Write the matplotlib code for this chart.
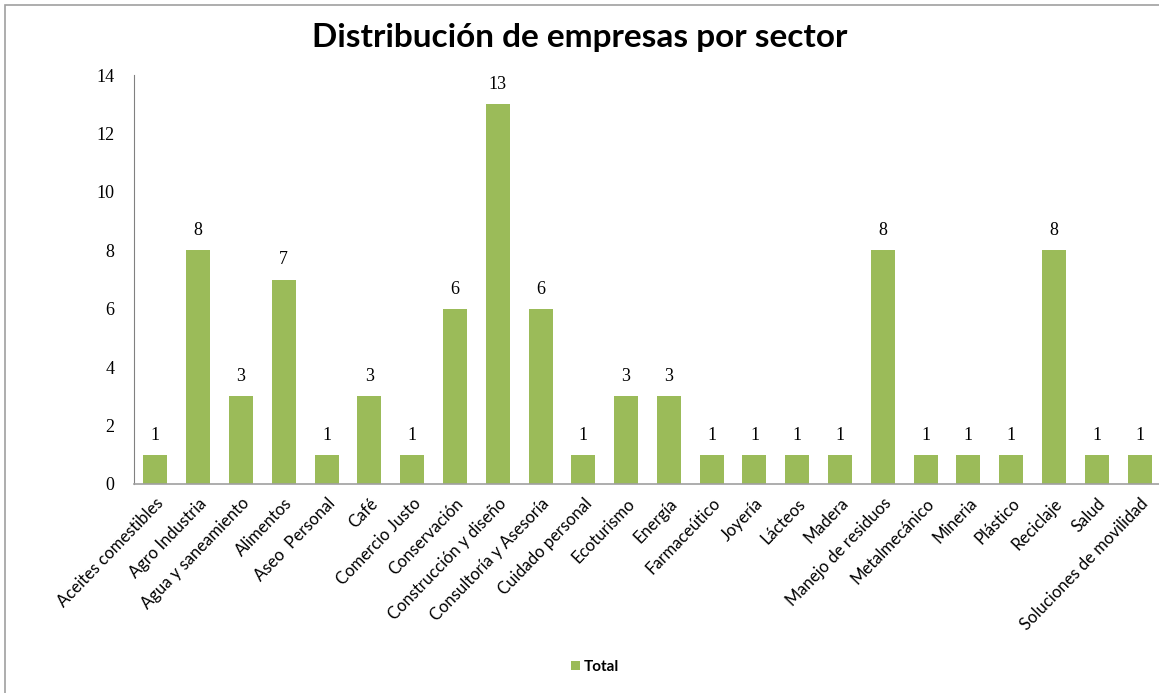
import matplotlib.pyplot as plt
from matplotlib.patches import Rectangle

sectores = [
    "Aceites comestibles", "Agro Industria", "Agua y saneamiento", "Alimentos",
    "Aseo  Personal", "Café", "Comercio Justo", "Conservación",
    "Construcción y diseño", "Consultoría y Asesoría", "Cuidado personal",
    "Ecoturismo", "Energía", "Farmaceútico", "Joyería", "Lácteos", "Madera",
    "Manejo de residuos", "Metalmecánico", "Mineria", "Plástico", "Reciclaje",
    "Salud", "Soluciones de movilidad",
]
total = [1, 8, 3, 7, 1, 3, 1, 6, 13, 6, 1, 3, 3, 1, 1, 1, 1, 8, 1, 1, 1, 8, 1, 1]
y_ticks = [0, 2, 4, 6, 8, 10, 12, 14]

verde = "#9BBB59"
sans = ["Lato", "DejaVu Sans"]
serif = ["Liberation Serif", "DejaVu Serif"]

fig = plt.figure(figsize=(11.59, 6.93), dpi=100)
ax = fig.add_axes([134 / 1159, 209 / 693, 1027 / 1159, 409 / 693])

x = range(len(sectores))
bars = ax.bar(x, total, width=0.56, color=verde, label="Total", zorder=2)

for b, v in zip(bars, total):
    ax.annotate(str(v), (b.get_x() + b.get_width() / 2, v), xytext=(0, 8),
                textcoords="offset points", ha="center", va="bottom",
                fontsize=13, family=serif)

ax.set_xlim(-0.5, len(sectores) - 0.5)
ax.set_ylim(0, 14)
ax.set_yticks(y_ticks)
ax.set_yticklabels([str(t) for t in y_ticks], family=serif, fontsize=13)
ax.set_xticks(list(x))
ax.set_xticklabels(sectores, rotation=46, ha="right", rotation_mode="anchor",
                   family=sans, fontsize=12)
ax.tick_params(axis="y", length=0, pad=14)
ax.tick_params(axis="x", length=0, pad=8)

for s in ["top", "right"]:
    ax.spines[s].set_visible(False)
ax.spines["left"].set_color("#808080")
ax.spines["bottom"].set_color("#a0a0a0")
ax.spines["bottom"].set_linewidth(1.2)

fig.text(0.5, 1 - 38 / 693, "Distribución de empresas por sector", ha="center",
         va="center", fontsize=24, fontweight="bold", family=sans)

leg = fig.legend(handles=[bars], labels=["Total"], loc="center",
                 bbox_to_anchor=(595 / 1159, 1 - 667 / 693), frameon=False,
                 handlelength=0.6, handleheight=0.6, handletextpad=0.2,
                 prop={"family": sans, "weight": "bold", "size": 11})

fig.patches.append(Rectangle((5 / 1159, -0.1), 1.2, 1 - 5 / 693 + 0.1,
                             transform=fig.transFigure, fill=False,
                             edgecolor="#a0a0a0", linewidth=1.2))

fig.savefig("out.png", dpi=100)
